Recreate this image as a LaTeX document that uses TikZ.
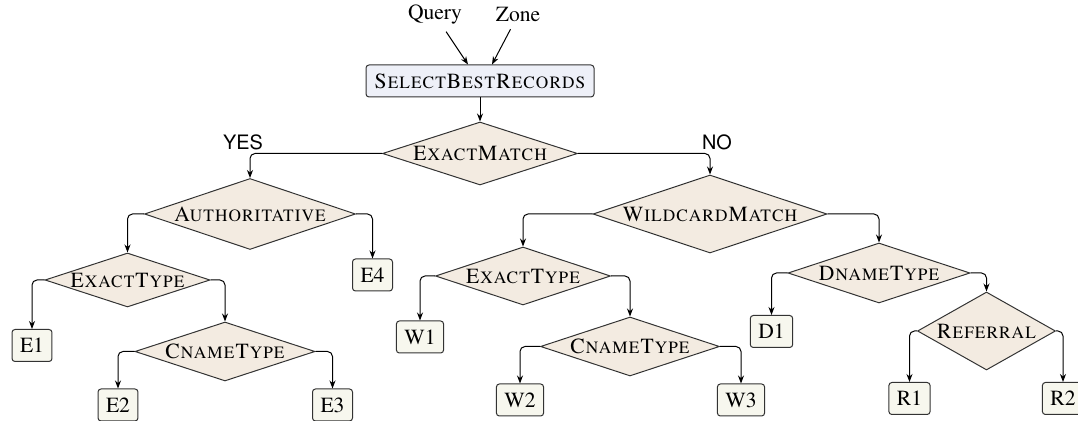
\documentclass[tikz,border=0pt]{standalone}
\usepackage[T1]{fontenc}
\usepackage{mathptmx}
\usepackage[scaled=0.92]{helvet}
\usetikzlibrary{shapes.geometric,arrows.meta}
\definecolor{dfill}{HTML}{F3EBE1}
\definecolor{bfill}{HTML}{F7F7EE}
\definecolor{sfill}{HTML}{EEF0F8}
\definecolor{bord}{HTML}{333333}
\begin{document}
\begin{tikzpicture}[x=0.5pt,y=-0.5pt,
  font=\fontsize{10.8}{13}\selectfont,
  dec/.style 2 args={diamond,draw=bord,fill=dfill,line width=0.5pt,inner sep=0pt,
    shape aspect/.evaluated={#1/#2},minimum width=#1pt,minimum height=#2pt},
  leaf/.style={rectangle,rounded corners=1.5pt,draw=bord,fill=bfill,line width=0.5pt,minimum height=16pt,inner xsep=4pt},
  top/.style={rectangle,rounded corners=1.5pt,draw=bord,fill=sfill,line width=0.5pt,minimum height=16pt,minimum width=114pt},
  arr/.style={-{Stealth[length=4pt,width=3pt]},line width=0.5pt,rounded corners=2.5pt},
  lbl/.style={font=\fontsize{10.8}{13}\sffamily\selectfont}]
\useasboundingbox (0,0) rectangle (1078,421);
\node (q) at (435,15) {Query};
\node (z) at (518,15) {Zone};
\node[top] (sbr) at (480,81) {\textsc{SelectBestRecords}};
\node[dec={97.5}{31.5}] (em) at (480,153.5) {\textsc{ExactMatch}};
\node[lbl] (yes) at (243,142) {YES};
\node[lbl] (no) at (717,142) {NO};
\node[dec={105.5}{35.5}] (auth) at (250,214) {\textsc{Authoritative}};
\node[leaf] (e4) at (372.5,275) {E4};
\node[dec={82.5}{27}] (et1) at (127.5,280) {\textsc{ExactType}};
\node[leaf] (e1) at (32,345.5) {E1};
\node[dec={90}{29.5}] (ct1) at (225,351.5) {\textsc{CnameType}};
\node[leaf] (e2) at (118,405) {E2};
\node[leaf] (e3) at (332.5,405) {E3};
\node[dec={117}{39}] (wm) at (710,214) {\textsc{WildcardMatch}};
\node[dec={87.5}{29}] (et2) at (523,276) {\textsc{ExactType}};
\node[leaf] (w1) at (420,337) {W1};
\node[dec={89.5}{29.5}] (ct2) at (630,346.5) {\textsc{CnameType}};
\node[leaf] (w2) at (520,400) {W2};
\node[leaf] (w3) at (741,400) {W3};
\node[dec={91}{30}] (dt) at (879,273) {\textsc{DnameType}};
\node[leaf] (d1) at (771.5,331.5) {D1};
\node[dec={69}{39}] (ref) at (986.5,331) {\textsc{Referral}};
\node[leaf] (r1) at (909.5,398.5) {R1};
\node[leaf] (r2) at (1063,398.5) {R2};
\draw[arr] (q) -- ([xshift=-6pt]sbr.north);
\draw[arr] (z) -- ([xshift=6pt]sbr.north);
\draw[arr] (sbr.south) -- (em.north);
\draw[arr] (em.west) -| (auth.north);
\draw[arr] (em.east) -| (wm.north);
\draw[arr] (auth.west) -| (et1.north);
\draw[arr] (auth.east) -| (e4.north);
\draw[arr] (et1.west) -| (e1.north);
\draw[arr] (et1.east) -| (ct1.north);
\draw[arr] (ct1.west) -| (e2.north);
\draw[arr] (ct1.east) -| (e3.north);
\draw[arr] (wm.west) -| (et2.north);
\draw[arr] (wm.east) -| (dt.north);
\draw[arr] (et2.west) -| (w1.north);
\draw[arr] (et2.east) -| (ct2.north);
\draw[arr] (ct2.west) -| (w2.north);
\draw[arr] (ct2.east) -| (w3.north);
\draw[arr] (dt.west) -| (d1.north);
\draw[arr] (dt.east) -| (ref.north);
\draw[arr] (ref.west) -| (r1.north);
\draw[arr] (ref.east) -| (r2.north);
\end{tikzpicture}
\end{document}
